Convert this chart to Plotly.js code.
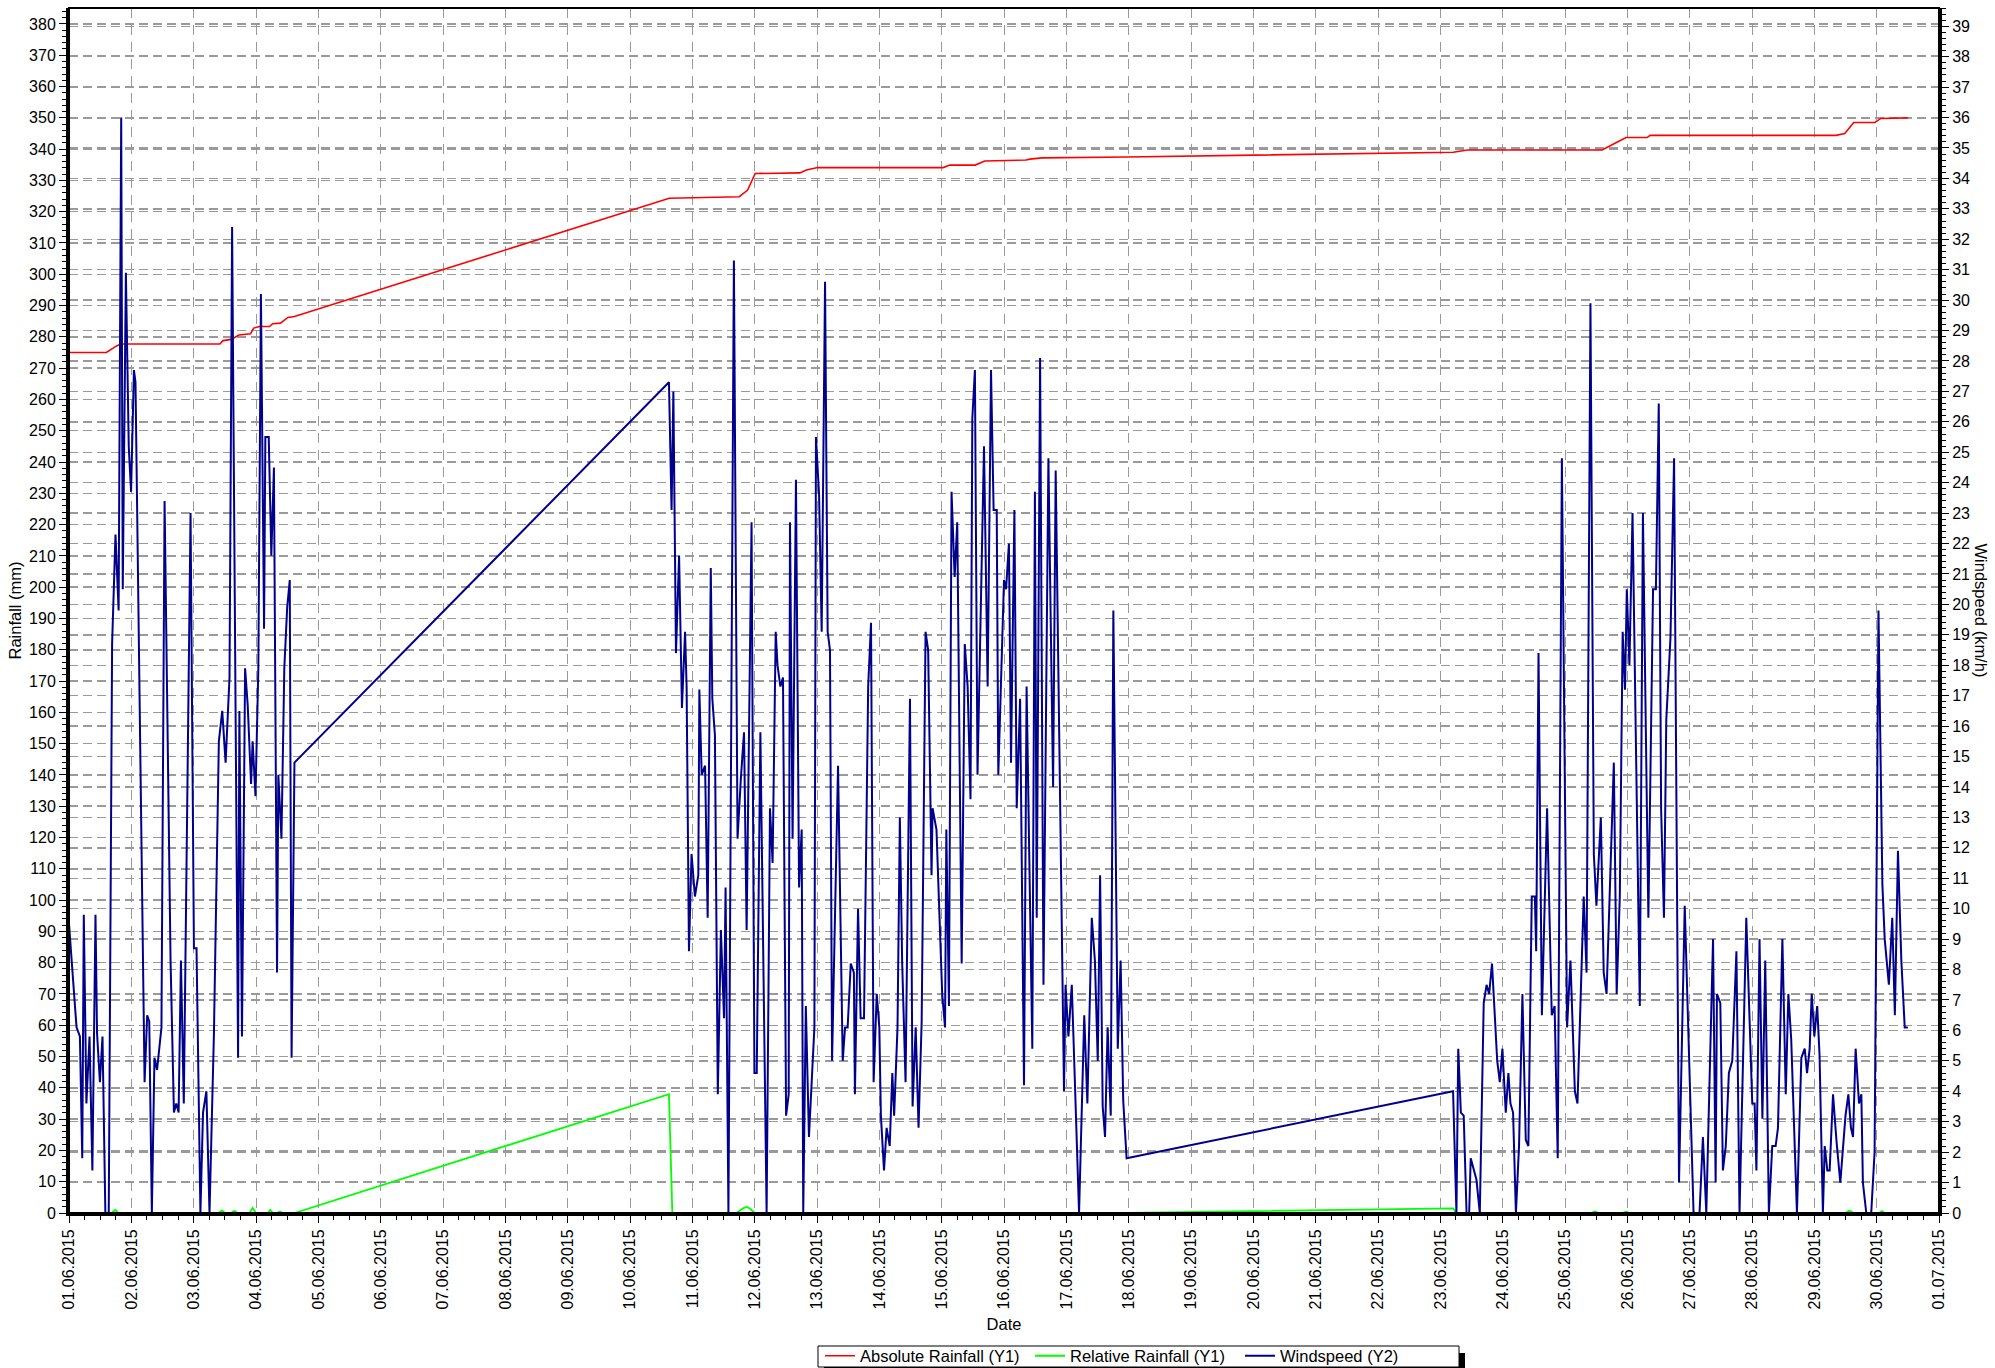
<!DOCTYPE html>
<html>
<head>
<meta charset="utf-8">
<script src="https://cdn.plot.ly/plotly-3.0.1.min.js"></script>
<style>html,body{margin:0;padding:0;background:#fff;}#chart{width:1995px;height:1368px;}</style>
</head>
<body>
<div id="chart"></div>
<script>
// Hours since 01.06.2015 00:00 and windspeed (km/h)
const windHours1 = [0,2.9,4.2,5.1,5.7,6.7,7.9,9.0,10.2,10.8,11.9,12.9,14.0,15.3,16.6,17.9,19.1,20.1,20.7,21.9,23.0,23.9,25.0,25.6,29.1,30.1,30.9,31.9,32.9,33.9,35.6,36.8,39.1,40.4,41.3,42.2,43.1,44.2,46.8,48.1,49.1,50.6,51.6,52.9,54.1,55.8,57.7,59.0,60.3,61.8,62.8,65.1,65.6,66.6,67.8,68.8,70.1,70.7,71.8,72.9,73.9,75.1,75.6,76.9,77.9,78.9,80.1,80.6,81.8,82.9,84.0,85.0,85.7,86.8];
const windSpeed1 = [9.5,6.1,5.8,1.8,9.8,3.6,5.8,1.4,9.8,5.9,4.3,5.8,0,0,18.7,22.3,19.8,36.0,20.5,30.9,25.2,23.7,27.7,27.3,4.3,6.5,6.3,0,5.1,4.7,6.1,23.4,8.3,3.3,3.6,3.3,8.3,3.6,23.0,8.7,8.7,0,3.3,4.0,0,5.9,15.5,16.5,14.8,17.6,32.4,5.1,16.5,5.8,17.9,16.7,14.1,15.5,13.7,17.9,30.2,19.2,25.5,25.5,21.6,24.5,7.9,14.4,12.3,17.9,19.9,20.8,5.1,14.8];

const windHours2 = [231.0,232.0,232.7,233.7,234.9,236.0,237.2,237.8,238.7,239.7,241.0,242.3,242.7,243.6,244.9,245.9,247.1,247.7,248.7,249.8,251.0,252.2,252.8,253.9,256.0,257.4,258.7,259.9,260.9,262.8,263.9,264.8,266.2,268.6,269.9,270.9,272.1,272.8,273.9,274.9,276.1,277.1,277.6,278.6,279.9,281.1,282.1,282.7,283.7,284.9,287.0,287.6,288.8,289.8,291.1,292.1,293.0,293.8,296.1,297.9,298.8,299.8,301.0,302.2,302.6,303.8,304.8,306.1,307.7,308.8,309.8,311.0,312.0,312.6,313.8,314.8,316.0,317.0,317.7,319.0,319.9,320.8,322.1,323.8,324.8,326.0,327.1,328.3,329.8,330.8,332.1,332.5,334.0,335.3,336.2,337.3,337.8,338.8,339.8,341.0,342.0,343.7,344.9,346.0,347.1,347.8,348.8,349.8,352.3,353.7,355.0,356.0,357.2,357.8,360.0,360.8,361.9,362.7,364.0,364.9,366.2,367.7,368.7,370.9,371.9,372.6,373.9,375.2,377.1,378.9,379.9,383.1,383.7,384.8,386.1,388.9,390.9,392.1,393.8,395.0,396.1,397.0,398.0,398.9,399.9,401.1,402.1,403.8,404.9,405.9,407.2];
const windSpeed2 = [27.3,23.1,27.0,18.4,21.6,16.6,19.1,17.3,8.6,11.8,10.4,11.1,17.2,14.4,14.7,9.7,21.2,16.9,15.7,3.9,9.3,6.4,10.7,0,31.3,12.3,14.3,15.8,9.3,22.7,4.6,4.6,15.8,0,13.3,11.5,19.1,18.0,17.3,17.6,3.2,3.9,22.7,12.3,24.1,10.7,12.6,0,6.8,2.5,6.1,25.5,23.6,19.1,30.6,19.1,18.5,5.0,14.7,5.0,6.1,6.1,8.2,7.9,3.9,10.0,6.4,6.4,17.3,19.4,4.3,7.2,6.1,3.2,1.4,2.8,2.2,4.6,3.2,6.1,13.0,8.2,4.3,16.9,3.5,6.1,2.8,6.3,19.1,18.5,11.1,13.3,12.6,9.3,7.2,6.1,12.6,6.8,23.7,20.9,22.7,8.2,18.7,17.3,13.6,26.1,27.7,14.4,25.2,17.3,27.7,23.1,23.1,14.4,20.8,20.5,22.0,14.8,23.1,13.3,16.9,4.2,17.3,5.4,23.7,9.7,28.1,7.5,24.8,14.0,24.4,4.0,7.5,5.8,7.5,0,6.5,3.6,9.7,8.3,5.0,11.1,3.5,2.5,6.1,3.2,19.8,5.4,8.3,3.7,1.8];

const windHours3 = [532.9,534.2,534.9,535.9,537.0,538.1,539.1,539.7,541.9,543.2,544.7,545.8,546.8,547.9,549.9,550.9,551.9,553.2,554.2,555.0,556.0,557.1,558.3,559.6,560.9,561.9,563.2,564.4,564.9,565.8,567.1,569.1,570.9,572.0,573.2,574.8,576.8,578.1,579.8,580.8,583.2,584.3,585.8,587.1,588.1,589.8,590.9,592.0,594.8,595.9,597.1,598.2,599.1,599.8,600.8,602.0,604.8,606.0,608.1,609.9,611.0,612.1,613.0,614.1,615.0,616.6,618.0,619.9,622.1,625.5,627.8,629.1,630.4,633.0,634.0,634.5,635.8,636.8,637.9,639.1,640.4,642.0,643.2,645.8,648.1,649.0,649.7,650.9,652.0,653.1,654.5,655.8,657.1,658.0,659.7,661.0,662.0,663.1,665.3,667.0,668.3,669.2,670.2,671.0,672.0,673.1,674.0,675.3,676.0,677.0,677.9,679.2,680.5,682.0,684.0,685.1,686.1,686.9,687.9,689.2,690.1,690.7,692.0,693.9,695.2,696.7,698.2,699.1,700.7,702.0,703.0,704.2,705.5,706.8,708.0];
const windSpeed3 = [4.0,0,5.4,3.3,3.2,0,0,1.8,1.1,0,6.9,7.5,7.2,8.2,5.0,4.3,5.4,3.3,4.6,3.6,3.3,0,2.2,7.2,2.4,2.2,10.4,10.4,8.6,18.4,6.5,13.3,6.5,6.8,1.8,24.8,6.1,8.3,4.0,3.6,10.4,7.9,29.9,11.8,10.1,13.0,7.9,7.2,14.8,7.2,10.4,19.1,17.2,20.5,18.0,23.0,6.8,23.0,9.7,20.5,20.5,26.6,13.3,9.7,16.2,18.9,24.8,1.0,10.1,0,0,2.5,0,9.0,1.0,7.2,6.9,1.4,2.2,4.6,5.0,8.6,0,9.7,3.6,3.6,1.4,9.0,3.1,8.3,0,2.2,2.2,2.8,9.0,3.9,7.2,5.7,0,5.1,5.4,4.6,5.4,7.2,5.8,6.8,5.2,0,2.2,1.4,1.4,3.9,2.4,1.0,3.2,3.9,2.8,2.5,5.4,3.6,3.9,1.0,0,0,2.0,19.8,10.8,9.0,7.5,9.7,6.5,11.9,8.3,6.1,6.1];

// Absolute rainfall (mm)
const absHours = [0,14.4,18.3,20.0,58.1,59.3,62.5,65.4,69.9,71.1,73.3,77.2,78.4,81.4,84.3,86.8,231.1,251.9,258.1,261.3,264.2,281.4,283.9,288.3,336.6,339.1,348.9,352.6,368.5,370.0,374.6,407.2,533.0,538.4,590.3,596.0,599.5,607.6,608.8,680.3,683.7,687.2,695.3,697.6,708.0];
const absRain  = [275,275,277.1,277.7,277.7,278.8,279.2,280.6,281.0,282.8,283.3,283.3,284.2,284.4,286.2,286.5,324.3,324.6,324.8,326.9,332.2,332.4,333.3,334.1,334.1,334.9,334.9,336.2,336.5,336.8,337.2,337.5,339.0,339.7,339.7,342.2,343.7,343.7,344.4,344.4,345.0,348.5,348.5,349.8,350.0];

// Relative rainfall (mm)
const relHours = [0,16.5,17.8,19,57.5,58.9,60,62.5,63.7,65,69.5,70.7,72,76.5,77.5,78.5,80.2,81.2,82.2,86.8,231.0,232.3,257,259.5,261,262.5,264,407.2,532.9,534.2,586,587.5,589,598,599.5,601,684,685.5,687,697,698,699,708];
const relRain  = [0,0,1.0,0,0,0.8,0,0,0.7,0,0,1.6,0,0,1.0,0,0,0.5,0,0,38.0,0,0,1.5,2.0,1.2,0,0,1.5,0,0,0.5,0,0,0.4,0,0,0.8,0,0,0.6,0,0];

const seriesNames = ['Absolute Rainfall (Y1)', 'Relative Rainfall (Y1)', 'Windspeed (Y2)'];
const seriesColors = ['#ff0000', '#00ff00', '#00008c'];

function toDate(h) {
  const ms = Date.UTC(2015, 5, 1) + Math.round(h * 3600000);
  return new Date(ms).toISOString().replace('T', ' ').slice(0, 19);
}

const windX = windHours1.concat(windHours2, windHours3).map(toDate);
const windY = windSpeed1.concat(windSpeed2, windSpeed3);

const traces = [
  {x: absHours.map(toDate), y: absRain, name: seriesNames[0], type: 'scatter', mode: 'lines',
   line: {color: seriesColors[0], width: 1.6}, yaxis: 'y', legendrank: 1},
  {x: relHours.map(toDate), y: relRain, name: seriesNames[1], type: 'scatter', mode: 'lines',
   line: {color: seriesColors[1], width: 1.8}, yaxis: 'y', legendrank: 2},
  {x: windX, y: windY, name: seriesNames[2], type: 'scatter', mode: 'lines',
   line: {color: seriesColors[2], width: 2}, yaxis: 'y2', legendrank: 3}
];

const W = 1995, H = 1368, L = 69, R = 56, T = 8, B = 155;
const pw = W - L - R, ph = H - T - B;
const px = v => (v - L) / pw;
const py = v => (H - B - v) / ph;

const gridColor = '#9a9a9a';
const font = 'Liberation Sans, Arial, Helvetica, sans-serif';

const layout = {
  width: W, height: H,
  margin: {l: L, r: R, t: T, b: B, autoexpand: false},
  paper_bgcolor: '#fff', plot_bgcolor: '#fff',
  font: {family: font, size: 16, color: '#000'},
  showlegend: true,
  legend: {
    orientation: 'h', x: px(820), xanchor: 'left', y: py(1356), yanchor: 'middle',
    bgcolor: 'rgba(0,0,0,0)', borderwidth: 0,
    font: {family: font, size: 16.5, color: '#000'}, itemwidth: 30, tracegroupgap: 0,
    entrywidth: 165, entrywidthmode: 'pixels'
  },
  xaxis: {
    type: 'date', range: ['2015-06-01 00:00:00', '2015-07-01 00:00:00'],
    tick0: '2015-06-01', dtick: 86400000, tickformat: '%d.%m.%Y', tickangle: -90,
    ticks: 'outside', ticklen: 7, tickwidth: 1, tickcolor: '#000',
    minor: {dtick: 6 * 3600000, ticks: 'outside', ticklen: 4, tickcolor: '#000', showgrid: false},
    showline: true, linecolor: '#000', linewidth: 3, layer: 'below traces',
    showgrid: true, gridcolor: gridColor, gridwidth: 1, griddash: '10px,7px',
    zeroline: false, tickfont: {size: 16},
    title: {text: 'Date', font: {size: 16.5}, standoff: 10}
  },
  yaxis: {
    range: [0, 385.1], dtick: 10, tick0: 0,
    ticks: 'outside', ticklen: 7, tickwidth: 1, tickcolor: '#000',
    minor: {dtick: 2, ticks: 'outside', ticklen: 4, tickcolor: '#000', showgrid: false},
    showline: true, linecolor: '#000', linewidth: 3,
    showgrid: true, gridcolor: gridColor, gridwidth: 1.5, griddash: '9px,5px',
    zeroline: false, tickfont: {size: 16},
    title: {text: 'Rainfall (mm)', font: {size: 16.5}, standoff: 4}
  },
  yaxis2: {
    overlaying: 'y', side: 'right', range: [0, 39.6], dtick: 1, tick0: 0,
    ticks: 'outside', ticklen: 7, tickwidth: 1, tickcolor: '#000',
    minor: {dtick: 0.2, ticks: 'outside', ticklen: 4, tickcolor: '#000', showgrid: false},
    showline: true, linecolor: '#000', linewidth: 3,
    showgrid: true, gridcolor: gridColor, gridwidth: 1.5, griddash: '9px,5px',
    zeroline: false, tickfont: {size: 16}
  },
  shapes: [
    {type: 'rect', xref: 'paper', yref: 'paper', x0: 0, x1: 1, y0: 0, y1: 1,
     line: {color: '#000', width: 2}, fillcolor: 'rgba(0,0,0,0)', layer: 'above'},
    // legend frame shadow and frame
    {type: 'rect', xref: 'paper', yref: 'paper', x0: px(824), x1: px(1465), y0: py(1374), y1: py(1353),
     line: {width: 0}, fillcolor: '#000', layer: 'above'},
    {type: 'rect', xref: 'paper', yref: 'paper', x0: px(818), x1: px(1459), y0: py(1367), y1: py(1346),
     line: {color: '#000', width: 1}, fillcolor: '#fff', layer: 'above'}
  ],
  annotations: [
    {text: 'Windspeed (km/h)', xref: 'paper', yref: 'paper', x: px(1981), y: 0.5,
     xanchor: 'center', yanchor: 'middle', textangle: 90, showarrow: false,
     font: {family: font, size: 16.5, color: '#000'}}
  ]
};

Plotly.newPlot('chart', traces, layout, {displayModeBar: false, staticPlot: true});
</script>
</body>
</html>
